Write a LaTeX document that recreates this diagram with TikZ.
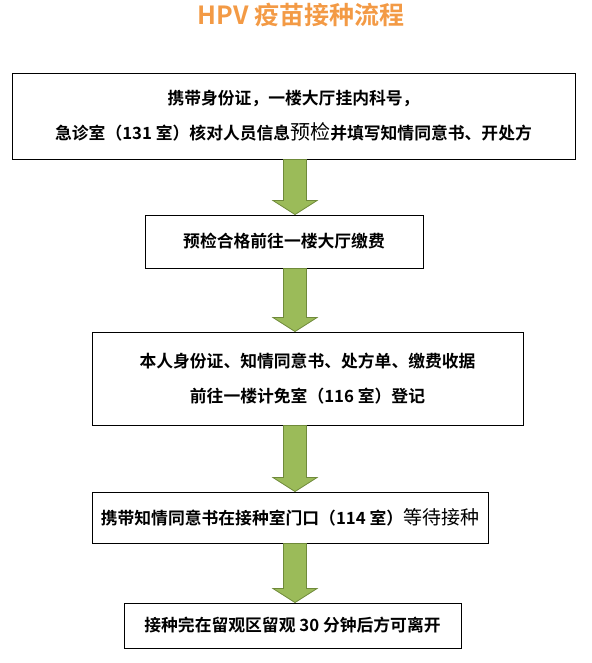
\documentclass[tikz,border=0pt]{standalone}
\usepackage{fontspec}
\setmainfont{Noto Sans CJK SC}[BoldFont=* Bold]
\usetikzlibrary{calc}
\definecolor{titleorange}{HTML}{F39A45}
\definecolor{arrowgreen}{HTML}{9BBB59}
\definecolor{arrowedge}{HTML}{6F8A3A}
\newcommand{\flowarrow}[2]{%
\draw[downarrow] let \p1=(#1.south), \p2=(#2.north) in
  (295pt-11.5pt,\y1) -- (295pt-11.5pt,\y2+14pt) -- (295pt-22pt,\y2+14pt) -- (295pt,\y2)
  -- (295pt+22pt,\y2+14pt) -- (295pt+11.5pt,\y2+14pt) -- (295pt+11.5pt,\y1) -- cycle;}
\begin{document}
\begin{tikzpicture}[x=1pt,y=-1pt,
  every node/.style={font=\bfseries\fontsize{16.8}{35}\selectfont},
  stepbox/.style={draw=black,line width=0.9pt,fill=white,align=center,inner sep=0pt},
  downarrow/.style={fill=arrowgreen,draw=arrowedge,line width=0.8pt}]
\useasboundingbox (0,0) rectangle (591,663);
\node[font=\bfseries\fontsize{25}{25}\selectfont,text=titleorange] (title) at (301,15) {HPV 疫苗接种流程};
\node[stepbox,minimum width=563,minimum height=86] (check) at (293.5,116)
  {携带身份证，一楼大厅挂内科号，\\急诊室（131 室）核对人员信息{\mdseries\fontsize{20}{20}\selectfont 预检}并填写知情同意书、开处方};
\node[stepbox,minimum width=278,minimum height=53] (pay) at (284,241.5)
  {预检合格前往一楼大厅缴费};
\node[stepbox,minimum width=431,minimum height=93] (register) at (307.5,378.5)
  {本人身份证、知情同意书、处方单、缴费收据\\前往一楼计免室（116 室）登记};
\node[stepbox,minimum width=396,minimum height=51] (wait) at (290,517.5)
  {携带知情同意书在接种室门口（114 室）{\mdseries\fontsize{19}{19}\selectfont 等待接种}};
\node[stepbox,minimum width=337,minimum height=45] (observe) at (292.5,625.5)
  {接种完在留观区留观 30 分钟后方可离开};
\flowarrow{check}{pay}
\flowarrow{pay}{register}
\flowarrow{register}{wait}
\flowarrow{wait}{observe}
\end{tikzpicture}
\end{document}
